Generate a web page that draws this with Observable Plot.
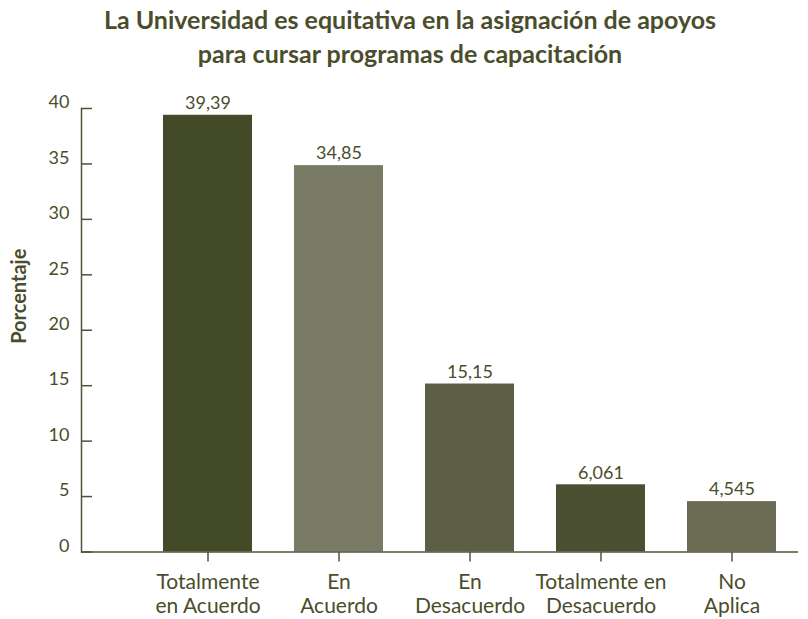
<!DOCTYPE html>
<html><head><meta charset="utf-8">
<script src="https://cdn.jsdelivr.net/npm/d3@7"></script>
<script src="https://cdn.jsdelivr.net/npm/@observablehq/plot@0.6"></script>
<style>
body{margin:0;background:#fff;}
#title{box-sizing:border-box;width:808px;height:70px;overflow:visible;padding-left:12px;padding-top:3px;font-family:Lato,sans-serif;font-weight:bold;font-size:25px;line-height:33.5px;color:#4a4e2c;text-align:center;white-space:nowrap;}
</style></head>
<body>
<div id="title">La Universidad es equitativa en la asignación de apoyos<br>para cursar programas de capacitación</div>
<div id="chart"></div>
<script>
const categories = ["Totalmente\nen Acuerdo", "En\nAcuerdo", "En\nDesacuerdo", "Totalmente en\nDesacuerdo", "No\nAplica"];
const values = [39.39, 34.85, 15.15, 6.061, 4.545];
const yTicks = [0, 5, 10, 15, 20, 25, 30, 35, 40];
const palette = ["#434a27", "#7a7b64", "#5d5f44", "#4b5033", "#6c6c54"];
const yLabel = "Porcentaje";

const data = categories.map((c, i) => ({category: c, value: values[i]}));
const ink = "#4a4d2c";
const axisInk = "#50533a";

const chart = Plot.plot({
  width: 808, height: 549,
  marginLeft: 81, marginRight: 10, marginTop: 38, marginBottom: 67.5,
  x: {domain: categories, range: [140, 798], padding: 0},
  y: {domain: [0, 40]},
  color: {domain: categories, range: palette},
  style: {fontFamily: "Lato, sans-serif", fontSize: "18px", color: ink, background: "#fff"},
  marks: [
    Plot.barY(data, {x: "category", y: "value", fill: "category", insetLeft: 21, insetRight: 21}),
    Plot.text(data, {x: "category", y: "value", text: d => String(d.value).replace(".", ","), dy: -12, fontSize: 18, fill: ink}),
    Plot.ruleY([0], {stroke: axisInk, strokeWidth: 1.5}),
    Plot.frame({anchor: "left", stroke: axisInk, strokeWidth: 1.5}),
    Plot.tickY(yTicks, {y: d => d, insetRight: 706, stroke: axisInk, strokeWidth: 1.5}),
    Plot.axisY({ticks: yTicks, tickSize: 0, tickPadding: 12, dy: -6, label: null, fill: ink, fontSize: 18}),
    Plot.axisX({tickSize: 10, tickPadding: 11, label: null, stroke: axisInk, strokeWidth: 1.5, fill: ink, fontSize: 21, lineHeight: 1.1}),
    Plot.text([yLabel], {frameAnchor: "left", textAnchor: "middle", rotate: -90, dx: -62, dy: -34, fontWeight: "bold", fontSize: 20, fill: ink})
  ]
});
document.getElementById("chart").appendChild(chart);
</script>
</body></html>
